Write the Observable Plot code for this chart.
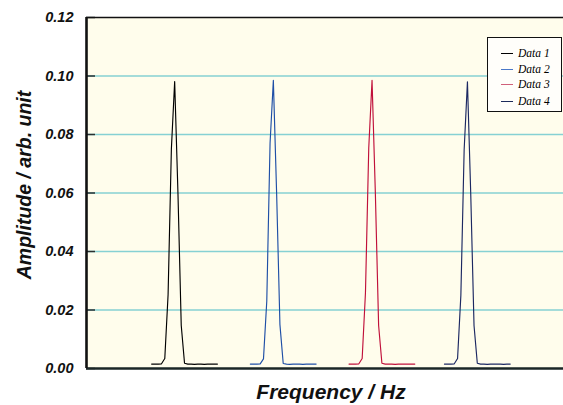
<!DOCTYPE html>
<html>
<head>
<meta charset="utf-8">
<script src="https://cdn.jsdelivr.net/npm/d3@7"></script>
<script src="https://cdn.jsdelivr.net/npm/@observablehq/plot@0.6"></script>
<style>
  body { margin: 0; background: #fff; }
  #wrap { position: relative; width: 563px; height: 405px; overflow: hidden; }
  #legend { position: absolute; left: 487px; top: 37px; width: 75px; height: 75px; box-sizing: border-box;
    border: 1px solid #111; background: #fffefa; font: italic 11.5px "Liberation Serif", "DejaVu Serif", serif; color: #000; }
  .row { position: absolute; left: 0; height: 12px; line-height: 12px; }
  .sw { position: absolute; left: 13px; top: 6px; width: 12px; height: 0; border-top: 1.3px solid; }
  .lb { position: absolute; left: 30px; top: 0; white-space: nowrap; }
</style>
</head>
<body>
<div id="wrap"><div id="chart"></div><div id="legend"></div></div>
<script>
// ---- data (frequency in arbitrary Hz units, amplitude in arb. units) ----
const seriesNames = ["Data 1", "Data 2", "Data 3", "Data 4"];
const seriesColors = ["#000000", "#1f4fa6", "#c0103a", "#1c2862"];
const legendColors = ["#000000", "#4a78c8", "#d0607a", "#1c2a5a"];

const freq1 = [20,21,22,23,24,25,26,27,28,29,30,31,32,33,34,35,36,37,38,39,40];
const amp1  = [0.0015,0.0015,0.0015,0.0016,0.0034,0.0252,0.0750,0.0981,0.0600,0.0147,0.0018,0.0015,0.0015,0.0014,0.0015,0.0015,0.0014,0.0015,0.0015,0.0015,0.0015];

const freq2 = [50,51,52,53,54,55,56,57,58,59,60,61,62,63,64,65,66,67,68,69,70];
const amp2  = [0.0015,0.0015,0.0015,0.0016,0.0033,0.0230,0.0770,0.0985,0.0597,0.0150,0.0017,0.0015,0.0014,0.0015,0.0015,0.0015,0.0014,0.0015,0.0015,0.0015,0.0015];

const freq3 = [80,81,82,83,84,85,86,87,88,89,90,91,92,93,94,95,96,97,98,99,100];
const amp3  = [0.0015,0.0015,0.0015,0.0016,0.0034,0.0259,0.0754,0.0985,0.0603,0.0147,0.0018,0.0015,0.0015,0.0015,0.0014,0.0015,0.0015,0.0015,0.0015,0.0015,0.0015];

const freq4 = [109,110,111,112,113,114,115,116,117,118,119,120,121,122,123,124,125,126,127,128,129];
const amp4  = [0.0015,0.0015,0.0015,0.0016,0.0034,0.0250,0.0748,0.0980,0.0598,0.0147,0.0018,0.0015,0.0015,0.0014,0.0015,0.0015,0.0015,0.0015,0.0014,0.0015,0.0015];

const xDomain = [0.2, 145.2];
const yDomain = [0, 0.12];
const yTicks = [0, 0.02, 0.04, 0.06, 0.08, 0.10, 0.12];
const yTickLabels = ["0.00", "0.02", "0.04", "0.06", "0.08", "0.10", "0.12"];
const xTitle = "Frequency / Hz";
const yTitle = "Amplitude / arb. unit";

// ---- build table ----
const freqs = [freq1, freq2, freq3, freq4];
const amps = [amp1, amp2, amp3, amp4];
const rows = [];
seriesNames.forEach((s, k) => freqs[k].forEach((f, i) => rows.push({series: s, f, a: amps[k][i]})));

const sans = "'Liberation Sans', Arial, sans-serif";
const W = 563, ML = 86;

const chart = Plot.plot({
  width: W, height: 405,
  marginLeft: ML, marginRight: 0, marginTop: 17, marginBottom: 37,
  style: {fontFamily: sans, background: "transparent"},
  x: {domain: xDomain, axis: null},
  y: {domain: yDomain, axis: null},
  color: {domain: seriesNames, range: seriesColors},
  marks: [
    Plot.frame({fill: "#fffdec", stroke: null}),
    Plot.ruleY(yTicks.slice(1, -1), {stroke: "#86d1d3", strokeWidth: 1.4}),
    Plot.tickY(yTicks, {y: d => d, stroke: "#2a3030", strokeWidth: 1.5, insetRight: W - ML - 9}),
    Plot.text(yTicks, {y: d => d, text: (d, i) => yTickLabels[i], frameAnchor: "left", dx: -13,
      textAnchor: "end", fontSize: 14.5, fontWeight: "bold", fontStyle: "italic", fill: "#111"}),
    Plot.line(rows, {x: "f", y: "a", z: "series", stroke: "series", strokeWidth: 1.15}),
    Plot.ruleY([yDomain[1]], {stroke: "#111", strokeWidth: 1.6}),
    Plot.ruleY([yDomain[0]], {stroke: "#1a2626", strokeWidth: 2.6}),
    Plot.ruleX([xDomain[0]], {stroke: "#111", strokeWidth: 2.6}),
    Plot.text([yTitle], {frameAnchor: "left", dx: -62, dy: -8, rotate: -90, textAnchor: "middle",
      fontSize: 19.5, fontWeight: "bold", fontStyle: "italic", fill: "#111"}),
    Plot.text([xTitle], {frameAnchor: "bottom", dx: 6, dy: 24, lineAnchor: "middle", textAnchor: "middle",
      fontSize: 21, fontWeight: "bold", fontStyle: "italic", fill: "#111"})
  ]
});
document.getElementById("chart").appendChild(chart);

// ---- legend ----
const leg = document.getElementById("legend");
const rowTops = [9, 25, 40, 57];
seriesNames.forEach((s, i) => {
  const r = document.createElement("div");
  r.className = "row";
  r.style.top = rowTops[i] + "px";
  r.innerHTML = `<span class="sw" style="border-color:${legendColors[i]}"></span><span class="lb">${s}</span>`;
  leg.appendChild(r);
});
</script>
</body>
</html>
